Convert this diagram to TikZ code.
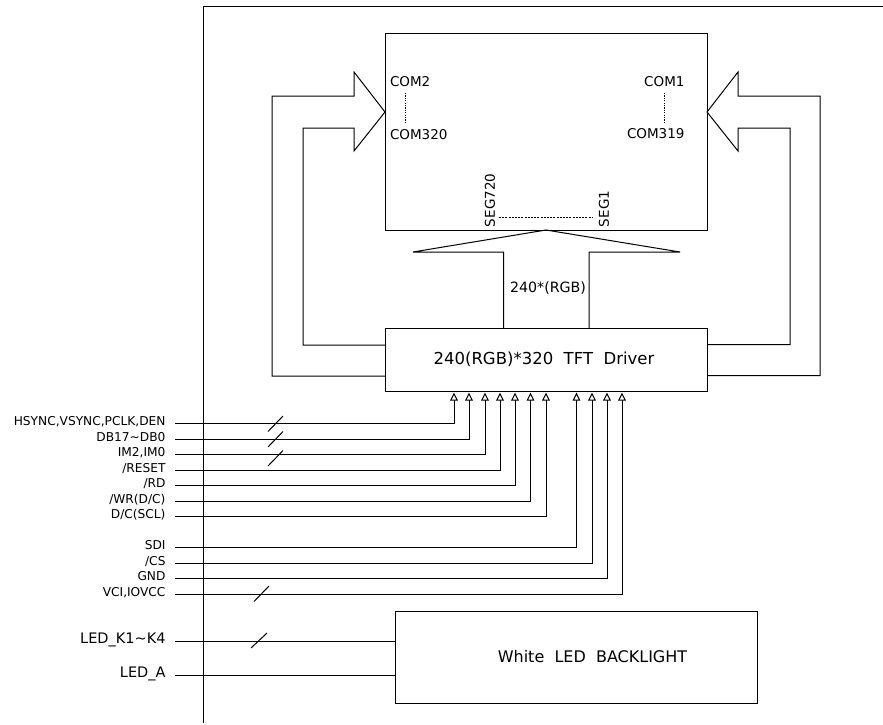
\documentclass[tikz,border=0pt]{standalone}
\usepackage{fontspec}
\setmainfont{DejaVu Sans}
\usepackage{xcolor}
\usepackage{tikz}
\usetikzlibrary{arrows.meta,positioning}

\begin{document}
\begin{tikzpicture}[
        x=1pt, y=-1pt,
        every node/.style={outer sep=0pt},
        box/.style={rectangle, draw, line width=1pt, align=center, font=\fontsize{16.5}{18}\selectfont},
        arrow/.style={-{Triangle[open, length=8pt, width=7.5pt]}, line width=1pt, shorten >=1pt},
        wire/.style={line width=1pt},
        dots/.style={line width=1pt, dash pattern=on 1.2pt off 1.2pt},
        sig/.style={anchor=east, inner xsep=9.5pt, inner ysep=0pt, text height=9pt, text depth=5pt, font=\fontsize{12.2}{14}\selectfont},
        bigsig/.style={sig, font=\fontsize{14.5}{16}\selectfont},
        com/.style={inner sep=0pt, font=\fontsize{13.5}{16}\selectfont}
    ]
        \useasboundingbox (0,0) rectangle (883,725);

        % frame
        \draw[wire] (883,6.5) -- (203.5,6.5) -- (203.5,723);

        \node[box, minimum width=322pt, minimum height=196pt] (lcd) at (546,132) {};
        \node[box, minimum width=322pt, minimum height=63pt, below=98pt of lcd] (drv) {\raisebox{-2.5pt}{240(RGB)*320\ \ TFT\ \ Driver}\hspace*{4pt}};
        \node[box, font=\fontsize{16}{18}\selectfont, minimum width=362pt, minimum height=92pt] (led) at (576.5,657.5) {\hspace*{32pt}\raisebox{2.5pt}{White\ \ LED\ \ BACKLIGHT}};

        % panel labels
        \node[com, anchor=west] (com2) at (390,82) {COM2};
        \node[com, anchor=west] (com320) at (390,135) {COM320};
        \node[com, anchor=east] (com1) at (684.5,81.5) {COM1};
        \node[com, anchor=east] (com319) at (684.5,134) {COM319};
        \node[com, rotate=90, anchor=west] (seg720) at (490,227) {SEG720};
        \node[com, rotate=90, anchor=west] (seg1) at (604,227) {SEG1};
        \node[com, font=\fontsize{14.2}{16}\selectfont] (rgb) at (548,288) {240*(RGB)};

        \draw[dots] (405.5,93) -- (405.5,122);
        \draw[dots] (664,93) -- (664,122);
        \draw[line width=1pt, dash pattern=on 2pt off 1.2pt] (499,217) -- (593,217);

        % big arrows
        \draw[wire] (drv.west |- 0,376) -- (272,376) -- (272,96) -- (354,96) -- (354,72)
            -- (lcd.west |- 0,112) -- (354,151) -- (354,128) -- (303,128) -- (303,345) -- (drv.west |- 0,345);
        \draw[wire] (drv.east |- 0,375.5) -- (820,375.5) -- (820,96) -- (738,96) -- (738,72)
            -- (lcd.east |- 0,112) -- (738,151) -- (738,128) -- (790,128) -- (790,344.5) -- (drv.east |- 0,344.5);
        \draw[wire] (drv.north -| 503.5,0) -- (503.5,252) -- (413,252) -- (lcd.south)
            -- (680,252) -- (589,252) -- (drv.north -| 589,0);

        % signals
        \coordinate (pin1) at (454,391.5);
        \coordinate (pin2) at (469,391.5);
        \coordinate (pin3) at (485,391.5);
        \coordinate (pin4) at (500,391.5);
        \coordinate (pin5) at (515,391.5);
        \coordinate (pin6) at (530.5,391.5);
        \coordinate (pin7) at (546,391.5);
        \coordinate (pin8) at (576.5,391.5);
        \coordinate (pin9) at (592,391.5);
        \coordinate (pin10) at (607,391.5);
        \coordinate (pin11) at (622,391.5);

        \node[sig] (hsync) at (175,423.5) {HSYNC,VSYNC,PCLK,DEN};
        \node[sig] (db) at (175,439) {DB17\textasciitilde DB0};
        \node[sig] (im) at (175,454.5) {IM2,IM0};
        \node[sig] (reset) at (175,470) {/RESET};
        \node[sig] (rd) at (175,485.5) {/RD};
        \node[sig] (wr) at (175,501) {/WR(D/C)};
        \node[sig] (dc) at (175,516.5) {D/C(SCL)};
        \node[sig] (sdi) at (175,547.5) {SDI};
        \node[sig] (cs) at (175,563) {/CS};
        \node[sig] (gnd) at (175,578.5) {GND};
        \node[sig] (vci) at (175,594) {VCI,IOVCC};
        \node[bigsig] (ledk) at (175,641) {LED\_K1\textasciitilde K4};
        \node[bigsig] (leda) at (175,675.5) {LED\_A};

        \draw[arrow] (hsync.east) -| (pin1);
        \draw[arrow] (db.east) -| (pin2);
        \draw[arrow] (im.east) -| (pin3);
        \draw[arrow] (reset.east) -| (pin4);
        \draw[arrow] (rd.east) -| (pin5);
        \draw[arrow] (wr.east) -| (pin6);
        \draw[arrow] (dc.east) -| (pin7);
        \draw[arrow] (sdi.east) -| (pin8);
        \draw[arrow] (cs.east) -| (pin9);
        \draw[arrow] (gnd.east) -| (pin10);
        \draw[arrow] (vci.east) -| (pin11);
        \draw[wire] (ledk.east) -- (led.west |- ledk.east);
        \draw[wire] (leda.east) -- (led.west |- leda.east);

        % bus ticks
        \draw[wire] (268,431.5) -- (283,416);
        \draw[wire] (268,447) -- (283,431.5);
        \draw[wire] (268,466) -- (283,450.5);
        \draw[wire] (254,601.5) -- (269,586);
        \draw[wire] (251,648) -- (267,633);
    \end{tikzpicture}
\end{document}
